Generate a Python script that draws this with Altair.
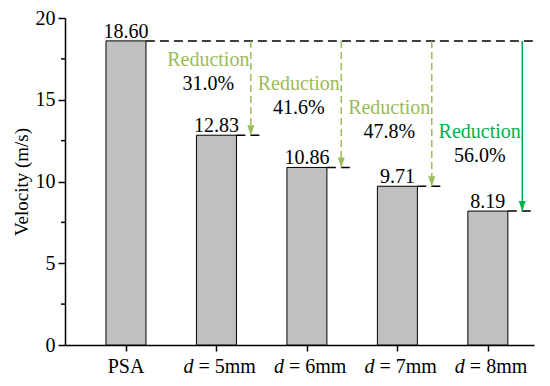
import altair as alt
import pandas as pd

categories = ["PSA", "d = 5mm", "d = 6mm", "d = 7mm", "d = 8mm"]
label_italic = ["", "d", "d", "d", "d"]
label_rest = ["PSA", "= 5mm", "= 6mm", "= 7mm", "= 8mm"]
velocity = [18.60, 12.83, 10.86, 9.71, 8.19]
value_text = ["18.60", "12.83", "10.86", "9.71", "8.19"]
reduction_pct = ["", "31.0%", "41.6%", "47.8%", "56.0%"]
minor_ticks = [2.5, 7.5, 12.5, 17.5]

FONT = "Liberation Serif"
FS = 20
OLIVE = "#9BBB59"
GREEN = "#00B050"
W, H = 469, 327
XDOM = [-0.674, 4.51]
ARROW = "M-0.7,-2L0.7,-2L0,0Z"

bars = pd.DataFrame({"pos": list(range(5)), "v": velocity, "txt": value_text,
                     "it": label_italic, "rest": label_rest})
ann = pd.DataFrame({
    "pos": list(range(1, 5)),
    "v": velocity[1:],
    "top": [velocity[0]] * 4,
    "pct": reduction_pct[1:],
    "col": [OLIVE, OLIVE, OLIVE, GREEN],
})
ann["ax"] = ann["pos"] + 0.38
ann["tx"] = ann["pos"] - 0.09
ann["ry"] = 17.45 - 1.47 * (ann["pos"] - 1)
ann["py"] = ann["ry"] - 1.5
ann["sx1"] = ann["pos"] + 0.22
ann["sx2"] = ann["pos"] + 0.52

xs = alt.Scale(domain=XDOM, nice=False, zero=False, padding=0)
ys = alt.Scale(domain=[0, 20], nice=False)

base = alt.Chart(bars)

bar = base.mark_bar(size=40, color="#C0C0C0", stroke="black", strokeWidth=1).encode(
    x=alt.X("pos:Q", scale=xs, axis=alt.Axis(values=[0, 1, 2, 3, 4], labels=False, tickSize=6,
                                             grid=False, title=None, domainColor="black",
                                             tickColor="black", domainWidth=1.5, tickWidth=1.5)),
    y=alt.Y("v:Q", scale=ys, axis=alt.Axis(values=[0, 5, 10, 15, 20], tickSize=7, grid=False,
                                           title="Velocity (m/s)", labelFont=FONT, titleFont=FONT,
                                           labelFontSize=FS, titleFontSize=19, titleFontWeight="normal",
                                           labelColor="black", titleColor="black", domainColor="black",
                                           tickColor="black", domainWidth=1.5, tickWidth=1.5,
                                           labelPadding=3, titlePadding=4)),
)

vals = base.mark_text(font=FONT, fontSize=FS, baseline="alphabetic", dy=-3, color="black").encode(
    x=alt.X("pos:Q", scale=xs), y=alt.Y("v:Q", scale=ys), text="txt:N")

lab_psa = base.transform_filter("datum.it == ''").mark_text(
    font=FONT, fontSize=FS, baseline="alphabetic", align="center", color="black").encode(
    x=alt.X("pos:Q", scale=xs), y=alt.value(H + 28), text="rest:N")
lab_rest = base.transform_filter("datum.it != ''").mark_text(
    font=FONT, fontSize=FS, baseline="alphabetic", align="left", color="black", dx=-18).encode(
    x=alt.X("pos:Q", scale=xs), y=alt.value(H + 28), text="rest:N")
lab_it = base.transform_filter("datum.it != ''").mark_text(
    font=FONT, fontSize=FS, baseline="alphabetic", align="right", fontStyle="italic",
    color="black", dx=-23).encode(
    x=alt.X("pos:Q", scale=xs), y=alt.value(H + 28), text="it:N")

minor = alt.Chart(pd.DataFrame({"m": minor_ticks})).mark_rule(color="black", strokeWidth=1.5).encode(
    y=alt.Y("m:Q", scale=ys), x=alt.value(-4), x2=alt.value(0))

topline = alt.Chart(pd.DataFrame({"x1": [0.22], "x2": [XDOM[1]], "v": [velocity[0]]})).mark_rule(
    color="black", strokeDash=[9, 5], strokeWidth=1.5).encode(
    x=alt.X("x1:Q", scale=xs), x2="x2:Q", y=alt.Y("v:Q", scale=ys))

a = alt.Chart(ann)
short = a.mark_rule(color="black", strokeDash=[9, 5], strokeWidth=1.5).encode(
    x=alt.X("sx1:Q", scale=xs), x2="sx2:Q", y=alt.Y("v:Q", scale=ys))

shaft_dashed = a.transform_filter("datum.pos < 4").mark_rule(
    color=OLIVE, strokeDash=[7, 4], strokeWidth=1.5).encode(
    x=alt.X("ax:Q", scale=xs), y=alt.Y("top:Q", scale=ys), y2="v:Q")
shaft_solid = a.transform_filter("datum.pos == 4").mark_rule(color=GREEN, strokeWidth=1.5).encode(
    x=alt.X("ax:Q", scale=xs), y=alt.Y("top:Q", scale=ys), y2="v:Q")
heads = a.mark_point(shape=ARROW, filled=True, size=100, opacity=1, strokeWidth=0).encode(
    x=alt.X("ax:Q", scale=xs), y=alt.Y("v:Q", scale=ys), color=alt.Color("col:N", scale=None))

red_txt = a.mark_text(font=FONT, fontSize=FS, baseline="middle").encode(
    x=alt.X("tx:Q", scale=xs), y=alt.Y("ry:Q", scale=ys), text=alt.value("Reduction"),
    color=alt.Color("col:N", scale=None))
pct_txt = a.mark_text(font=FONT, fontSize=FS, baseline="middle", color="black").encode(
    x=alt.X("tx:Q", scale=xs), y=alt.Y("py:Q", scale=ys), text="pct:N")

chart = alt.layer(bar, minor, topline, short, shaft_dashed, shaft_solid, heads, vals,
                  red_txt, pct_txt, lab_psa, lab_rest, lab_it).properties(
    width=W, height=H, padding={"left": 4, "top": 0, "right": 2, "bottom": 5}
).configure_view(stroke=None)

chart.save("out.html", embed_options={"renderer": "svg", "actions": False})
